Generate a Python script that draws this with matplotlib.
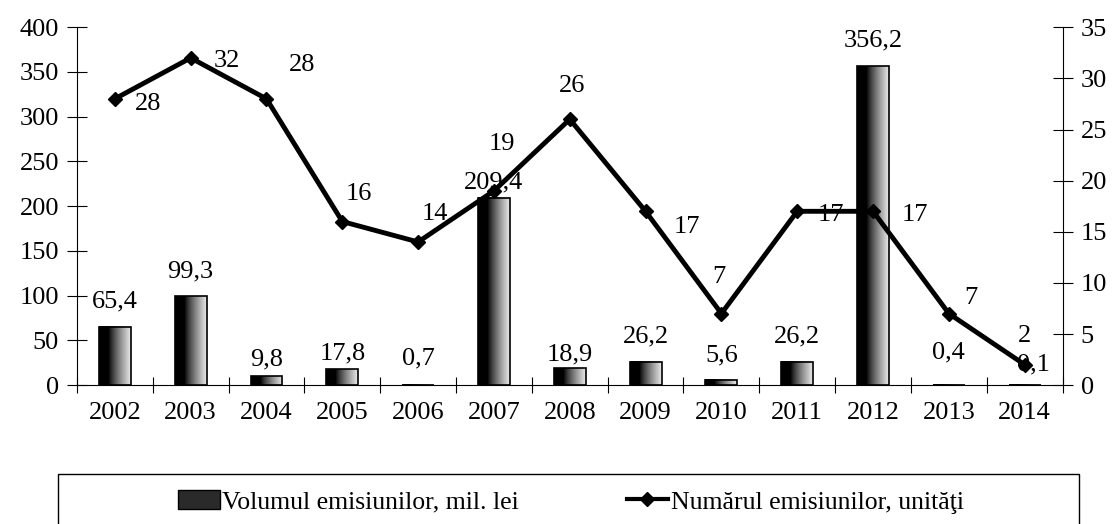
import matplotlib
matplotlib.use('Agg')
import matplotlib.pyplot as plt
from matplotlib.patches import Rectangle, Patch
from matplotlib.lines import Line2D
import numpy as np

plt.rcParams['font.family'] = ['Liberation Serif', 'DejaVu Serif']

# date
years = ['2002', '2003', '2004', '2005', '2006', '2007', '2008',
         '2009', '2010', '2011', '2012', '2013', '2014']
volum = [65.4, 99.3, 9.8, 17.8, 0.7, 209.4, 18.9, 26.2, 5.6, 26.2, 356.2, 0.4, 0.1]
numar = [28, 32, 28, 16, 14, 19, 26, 17, 7, 17, 17, 7, 2]

# pozitia etichetelor (puncte)
lab_off = [(24, -4), (26, -2), (26, 24), (12, 20), (12, 20), (6, 34), (2, 24),
           (30, -11), (-2, 26), (24, -3), (30, -3), (16, 11), (0, 21)]
bar_off = [(0, 18), (0, 18), (0, 12), (0, 11), (0, 19), (0, 11), (0, 10),
           (0, 18), (0, 18), (0, 18), (0, 19), (0, 23), (6, 15)]

def fmt(v):
    return ('%.1f' % v).replace('.', ',')

FS = 19

fig = plt.figure(figsize=(11.15, 5.24), dpi=100)
ax = fig.add_axes([0.069, 0.265, 0.884, 0.683])
x = np.arange(len(years))
w = 0.42

# bare cu gradient (negru -> gri deschis)
t = np.linspace(0, 1, 64)
grad = np.clip((t - 0.3) / 0.7, 0, 1) ** 0.8
grad = np.vstack([grad, grad])
for xi, v in zip(x, volum):
    ax.imshow(grad, extent=(xi - w / 2, xi + w / 2, 0, v), aspect='auto',
              cmap='gray', vmin=0, vmax=1.1, zorder=2, origin='lower')
    ax.add_patch(Rectangle((xi - w / 2, 0), w, v, fill=False,
                           edgecolor='black', linewidth=1.2, zorder=3))

for xi, v, off in zip(x, volum, bar_off):
    ax.annotate(fmt(v), (xi, v), xytext=off, textcoords='offset points',
                ha='center', va='center', fontsize=FS, zorder=6)

ax.set_xlim(-0.5, len(years) - 0.5)
ax.set_ylim(0, 400)
ax.set_yticks(range(0, 401, 50))
ax.set_xticks(np.arange(-0.5, len(years), 1))
ax.set_xticklabels([])
ax.set_xticks(x, minor=True)
ax.set_xticklabels(years, minor=True)
ax.tick_params(axis='x', which='major', direction='inout', length=12, width=0.8)
ax.tick_params(axis='x', which='minor', length=0, pad=12, labelsize=FS)
ax.tick_params(axis='y', direction='inout', length=14, width=0.8, labelsize=FS, pad=6)
ax.spines['top'].set_visible(False)
ax.spines['right'].set_visible(False)

ax2 = ax.twinx()
ax2.plot(x, numar, color='black', linewidth=3.5, marker='D', markersize=7,
         markerfacecolor='black', zorder=5)
for xi, n, off in zip(x, numar, lab_off):
    ax2.annotate(str(n), (xi, n), xytext=off, textcoords='offset points',
                 ha='center', va='center', fontsize=FS, zorder=6)
ax2.set_ylim(0, 35)
ax2.set_yticks(range(0, 36, 5))
ax2.tick_params(axis='y', direction='inout', length=14, width=0.8, labelsize=FS, pad=6)
ax2.spines['top'].set_visible(False)
ax2.spines['left'].set_visible(False)
ax2.spines['bottom'].set_visible(False)
ax2.set_xlim(-0.5, len(years) - 0.5)

# legenda
fig.patches.append(Rectangle((58 / 1115, -0.05), (1079 - 58) / 1115, 0.05 + (524 - 474) / 524,
                             transform=fig.transFigure, fill=False,
                             edgecolor='black', linewidth=1.0))
handles = [Patch(facecolor='#2a2a2a', edgecolor='black'),
           Line2D([0], [0], color='black', linewidth=3, marker='D', markersize=7)]
fig.legend(handles, ['Volumul emisiunilor, mil. lei', 'Numărul emisiunilor, unităţi'],
           loc='center', bbox_to_anchor=(571 / 1115, 1 - 502 / 524), ncol=2,
           frameon=False, fontsize=18.5, handlelength=1.6, handleheight=0.75,
           handletextpad=0.1, columnspacing=4.2, borderpad=0.2)

fig.savefig('out.png', dpi=100)
